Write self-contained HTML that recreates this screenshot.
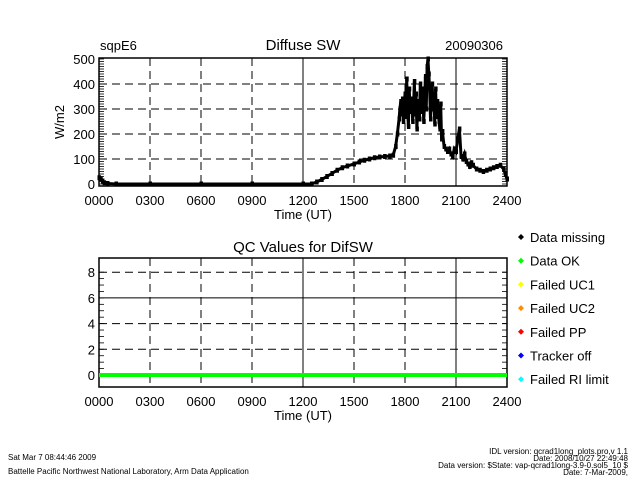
<!DOCTYPE html>
<html><head><meta charset="utf-8"><style>
html,body{margin:0;padding:0;background:#fff;}
svg text{font-family:"Liberation Sans",sans-serif;fill:#000;}
</style></head><body>
<svg width="640" height="480" viewBox="0 0 640 480" xmlns="http://www.w3.org/2000/svg">
<g id="topPanel"></g>
<g id="botPanel"></g>
<g id="legendG"></g>
<text x="100" y="50" font-size="13">sqpE6</text>
<text x="303" y="50" font-size="15" text-anchor="middle">Diffuse SW</text>
<text x="503" y="50" font-size="13" text-anchor="end">20090306</text>
<text x="303" y="252" font-size="15" text-anchor="middle">QC Values for DifSW</text>
<text x="303" y="219" font-size="13" text-anchor="middle">Time (UT)</text>
<text x="303" y="420" font-size="13" text-anchor="middle">Time (UT)</text>
<text transform="translate(64,122) rotate(-90)" font-size="13" text-anchor="middle">W/m2</text>
<text x="8" y="460" font-size="8">Sat Mar  7 08:44:46 2009</text>
<text x="8" y="474" font-size="8">Battelle Pacific Northwest National Laboratory, Arm Data Application</text>
<g font-size="8" text-anchor="end">
<text x="628" y="454">IDL version: qcrad1long_plots.pro,v 1.1</text>
<text x="628" y="461">Date: 2008/10/27 22:49:48</text>
<text x="628" y="468">Data version: $State: vap-qcrad1long-3.9-0.sol5_10 $</text>
<text x="628" y="475">Date: 7-Mar-2009,</text>
</g>
</svg>
<script>
var xTicks=["0000","0300","0600","0900","1200","1500","1800","2100","2400"];
var yTicksTop=[0,100,200,300,400,500];
var yTicksQc=[0,2,4,6,8];
var swHours=[0,0.1,0.2,0.3,0.5,1,3,6,9,12,12.5,12.8,13.1,13.4,13.7,14,14.3,14.6,15,15.3,15.6,15.9,16.2,16.5,16.8,17.1,17.3,17.45,17.55,17.65,17.7,17.75,17.8,17.85,17.9,17.95,18,18.05,18.1,18.15,18.2,18.25,18.3,18.35,18.4,18.45,18.5,18.55,18.6,18.65,18.7,18.75,18.8,18.85,18.9,18.95,19,19.05,19.1,19.15,19.2,19.25,19.3,19.35,19.4,19.45,19.5,19.55,19.6,19.65,19.7,19.75,19.8,19.85,19.9,19.95,20,20.05,20.1,20.15,20.2,20.3,20.4,20.5,20.6,20.7,20.8,20.9,21,21.1,21.2,21.3,21.4,21.5,21.6,21.7,21.8,21.9,22,22.2,22.4,22.6,22.8,23,23.2,23.4,23.6,23.8,23.9,24];
var swValues=[25,20,12,5,2,0,0,0,0,0,0,8,18,30,42,55,65,72,80,88,95,100,105,108,110,112,115,150,200,260,300,330,280,340,250,310,360,270,420,300,230,380,290,320,340,250,300,410,280,360,220,330,300,260,400,350,290,380,250,320,430,300,470,500,440,380,260,330,400,300,350,240,380,270,330,300,250,220,320,180,210,150,140,130,140,120,110,140,130,180,220,110,100,120,90,80,70,85,75,60,55,50,55,60,65,70,75,60,40,20];
var qcHours=[0,24];
var qcValues=[0,0];
var legendLabels=["Data missing","Data OK","Failed UC1","Failed UC2","Failed PP","Tracker off","Failed RI limit"];
var legendColors=["#000","#00ff00","#ffff00","#ff8c00","#ff0000","#0000ff","#00ffff"];
var NS="http://www.w3.org/2000/svg";
var X0=99,X1=507;
function xs(h){return X0+(X1-X0)*h/24;}
function ysTop(v){return 184-v*0.25;}
function ysQc(v){return 375-v*12.85;}
function mk(p,t,a){var e=document.createElementNS(NS,t);for(var k in a)e.setAttribute(k,a[k]);p.appendChild(e);return e;}
function panel(g,t0,b0,yt,ys,pre,minorStep){
  var i,ln,tx;
  for(i=1;i<xTicks.length-1;i++){
    ln=mk(g,'line',{x1:xs(i*3),x2:xs(i*3),y1:t0,y2:b0,stroke:'#000','stroke-dasharray':(i==4||i==7)?'none':'8,5','stroke-width':1});
    
    
  }
  for(var v=yt[0];v<=yt[yt.length-1]+1e-9;v+=minorStep){
    var yy=ys(v);
    if(yy<t0||yy>b0)continue;
    ln=mk(g,'line',{x1:X0,x2:X0+5,y1:yy,y2:yy,stroke:'#000','stroke-width':0.8});
    
    
    ln=mk(g,'line',{x1:X1-5,x2:X1,y1:yy,y2:yy,stroke:'#000','stroke-width':0.8});
    
    
  }
  for(i=0;i<yt.length;i++){
    var y=ys(yt[i]);
    if(y>t0+2&&y<b0-2){
      ln=mk(g,'line',{x1:X0,x2:X1,y1:y,y2:y,stroke:'#000','stroke-dasharray':(pre=='qc-'&&yt[i]==6)?'none':'8,5'});
      
      
    }
    tx=mk(g,'text',{x:X0-4,y:y+5,'font-size':13,'text-anchor':'end'});
    tx.textContent=yt[i];
    
    
  }
  for(i=0;i<xTicks.length;i++){
    tx=mk(g,'text',{x:xs(i*3),y:b0+19,'font-size':13,'text-anchor':'middle'});
    tx.textContent=xTicks[i];
    
    
  }
  var r=mk(g,'rect',{x:X0,y:t0,width:X1-X0,height:b0-t0,fill:'none',stroke:'#000','stroke-width':1.5});
  
  
}
var topG=document.getElementById('topPanel'),botG=document.getElementById('botPanel'),lgG=document.getElementById('legendG');
panel(topG,58,186,yTicksTop,ysTop,'top-',10);
panel(botG,258,387,yTicksQc,ysQc,'qc-',0.5);
var pts=swHours.map(function(h,i){return xs(h)+','+ysTop(swValues[i]);}).join(' ');
var pl=mk(topG,'polyline',{points:pts,fill:'none',stroke:'#000','stroke-width':3});


swHours.forEach(function(h,i){
  var s=mk(topG,'rect',{x:xs(h)-1.5,y:ysTop(swValues[i])-2.5,width:3.5,height:5,fill:'#000'});
  
  
});
var q=mk(botG,'polyline',{points:qcHours.map(function(h,i){return xs(h)+','+ysQc(qcValues[i]);}).join(' '),fill:'none',stroke:'#00ff00','stroke-width':4});


legendLabels.forEach(function(l,i){
  var y=237+i*23.7;
  var d=mk(lgG,'path',{d:'M'+(521-3)+' '+y+' l3 -3 l3 3 l-3 3 z',fill:legendColors[i]});
  
  
  var t=mk(lgG,'text',{x:530,y:y+5,'font-size':13});
  t.textContent=l;
  
  
});
</script>
</body></html>
